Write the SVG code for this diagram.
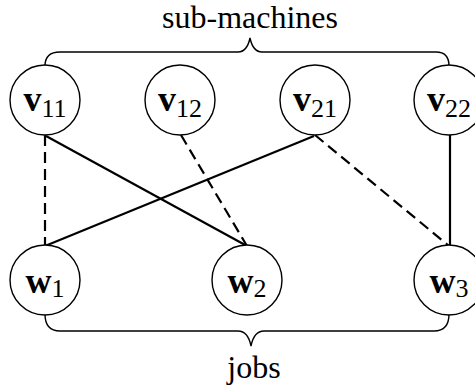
<svg xmlns="http://www.w3.org/2000/svg" width="475" height="390" viewBox="0 0 475 390">
<style>
.node{fill:#fff;stroke:#000;stroke-width:1.4}
.lbl{font-family:"Liberation Serif","Times New Roman",serif;font-size:36px;font-weight:bold;text-anchor:middle;fill:#000}
.sub{font-size:26px;font-weight:normal}
.edge{stroke:#000;stroke-width:2.2;fill:none}
.dash{stroke-dasharray:11,6}
.brace{stroke:#000;stroke-width:1.4;fill:none}
.title{font-family:"Liberation Serif","Times New Roman",serif;font-size:32px;text-anchor:middle;fill:#000}
</style>
<g id="braces">
<path class="brace" d="M45,66 Q45,52 60,52 L238,52 Q247,52 250,38 Q253,52 262,52 L436,52 Q449,52 449,66"/>
<path class="brace" d="M45,314 Q45,331 60,331 L238,331 Q248,331 251,346 Q254,331 264,331 L434,331 Q449,331 449,314"/>
<text class="title" x="250" y="28">sub-machines</text>
<text class="title" x="254" y="378">jobs</text>
</g>
<g id="connectors">
<line class="edge dash" x1="45" y1="135" x2="45" y2="245"/>
<line class="edge" x1="46" y1="136" x2="247" y2="246"/>
<line class="edge dash" x1="181" y1="135" x2="247" y2="246"/>
<line class="edge" x1="314" y1="136" x2="45" y2="246"/>
<line class="edge dash" x1="315" y1="135" x2="449" y2="246"/>
<line class="edge" x1="450" y1="135" x2="450" y2="246"/>
</g>
<g id="v11"><circle class="node" cx="45" cy="100" r="35"/><text class="lbl" x="45" y="111">v<tspan class="sub" dy="6">11</tspan></text></g>
<g id="v12"><circle class="node" cx="180" cy="100" r="35"/><text class="lbl" x="180" y="111">v<tspan class="sub" dy="6">12</tspan></text></g>
<g id="v21"><circle class="node" cx="315" cy="100" r="35"/><text class="lbl" x="315" y="111">v<tspan class="sub" dy="6">21</tspan></text></g>
<g id="v22"><circle class="node" cx="449" cy="100" r="35"/><text class="lbl" x="449" y="111">v<tspan class="sub" dy="6">22</tspan></text></g>
<g id="w1"><circle class="node" cx="45" cy="280" r="35"/><text class="lbl" x="45" y="293">w<tspan class="sub" dy="4">1</tspan></text></g>
<g id="w2"><circle class="node" cx="247" cy="280" r="35"/><text class="lbl" x="247" y="293">w<tspan class="sub" dy="4">2</tspan></text></g>
<g id="w3"><circle class="node" cx="449" cy="280" r="35"/><text class="lbl" x="449" y="293">w<tspan class="sub" dy="4">3</tspan></text></g>
</svg>
